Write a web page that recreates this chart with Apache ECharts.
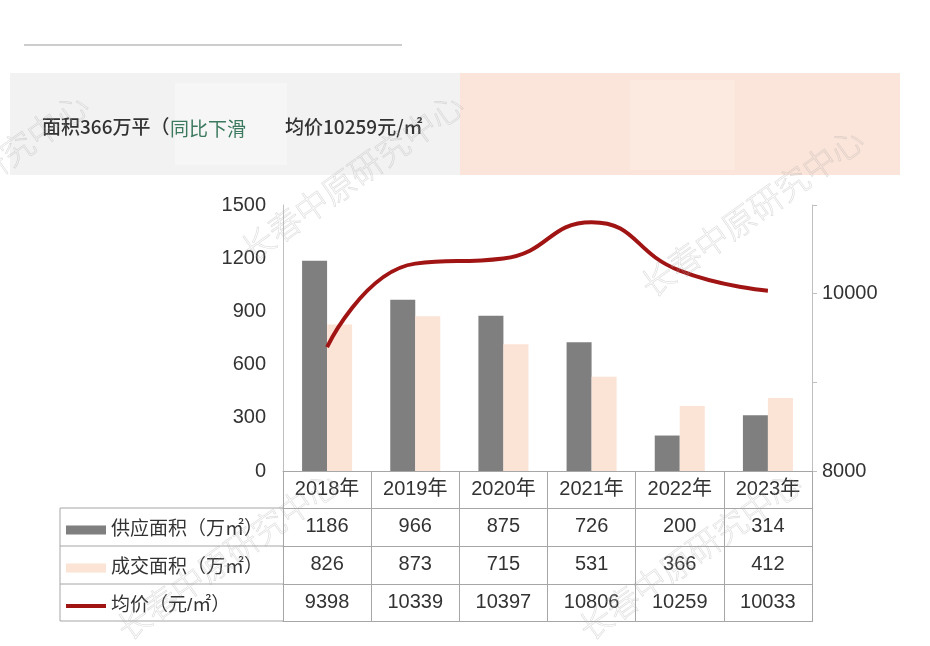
<!DOCTYPE html>
<html>
<head>
<meta charset="utf-8">
<script src="https://cdn.jsdelivr.net/npm/echarts@6/dist/echarts.min.js"></script>
<style>html,body{margin:0;padding:0;background:#fff}#c{width:930px;height:646px}</style>
</head>
<body>
<div id="c"></div>
<script>
var categories = ['2018年','2019年','2020年','2021年','2022年','2023年'];
var supply = [1186, 966, 875, 726, 200, 314];
var deal = [826, 873, 715, 531, 366, 412];
var price = [9398, 10339, 10397, 10806, 10259, 10033];
var seriesNames = ['供应面积（万㎡）', '成交面积（万㎡）', '均价（元/㎡）'];
var leftTicks = [0, 300, 600, 900, 1200, 1500];
var rightShown = [8000, 10000];

var FONT = 'Liberation Sans, Arial, "Noto Sans CJK SC", sans-serif';
var BORDER = '#a6a6a6';
var TXT = '#333333';

var chart = echarts.init(document.getElementById('c'));

function rowAxis(offset, values, last) {
  return {
    type: 'category', gridIndex: 0, position: 'bottom', offset: offset,
    data: categories, boundaryGap: true,
    axisLine: { show: true, lineStyle: { color: BORDER, width: 1 } },
    axisTick: { show: !last, length: last ? 0 : 38, interval: 0, lineStyle: { color: BORDER, width: 1 } },
    axisLabel: last ? { show: false } : {
      show: true, interval: 0, margin: 8, fontSize: 20, color: TXT, fontFamily: FONT,
      formatter: function (v, i) { return values ? String(values[i]) : v; }
    }
  };
}

function watermark(x, y) {
  return {
    type: 'text', x: x, y: y, rotation: 0.62, silent: true, z: 100,
    style: {
      text: '长春中原研究中心', x: 0, y: 0, align: 'center', verticalAlign: 'middle',
      font: '300 33px "Noto Sans CJK SC", sans-serif',
      fill: 'rgba(255,255,255,0)', stroke: 'rgba(170,170,170,0.38)', lineWidth: 0.7
    }
  };
}

var lineIcon = 'path://M0,0 L40,0 L40,0.01 L0,0.01 Z M0,2.6 L40,2.6 L40,6.4 L0,6.4 Z M0,8.99 L40,8.99 L40,9 L0,9 Z';

var option = {
  backgroundColor: '#ffffff',
  animation: false,
  grid: { left: 283, right: 118, top: 205, bottom: 175, containLabel: false },
  legend: {
    orient: 'vertical', left: 61, top: 515, itemGap: 18, itemWidth: 40, itemHeight: 9,
    selectedMode: false,
    textStyle: { fontSize: 19, color: TXT, fontFamily: FONT, lineHeight: 20 },
    data: [
      { name: seriesNames[0], icon: 'rect' },
      { name: seriesNames[1], icon: 'rect' },
      { name: seriesNames[2], icon: lineIcon, itemStyle: { color: '#a01414' } }
    ]
  },
  xAxis: [
    rowAxis(0, null, false),
    rowAxis(37, supply, false),
    rowAxis(75, deal, false),
    rowAxis(113, price, false),
    rowAxis(150, null, true)
  ],
  yAxis: [
    {
      type: 'value', min: leftTicks[0], max: leftTicks[leftTicks.length - 1], interval: 300,
      axisLine: { show: true, lineStyle: { color: '#bfbfbf', width: 1 } },
      axisTick: { show: false }, splitLine: { show: false },
      axisLabel: { fontSize: 20, color: TXT, fontFamily: FONT, margin: 17, formatter: function (v) { return String(v); } }
    },
    {
      type: 'value', min: 8000, max: 11000, interval: 1000, position: 'right',
      axisLine: { show: true, lineStyle: { color: '#bfbfbf', width: 1 } },
      axisTick: { show: true, length: 5, lineStyle: { color: '#bfbfbf' } },
      splitLine: { show: false },
      axisLabel: {
        fontSize: 20, color: TXT, fontFamily: FONT, margin: 10,
        formatter: function (v) { return rightShown.indexOf(v) >= 0 ? String(v) : ''; }
      }
    }
  ],
  series: [
    {
      name: seriesNames[0], type: 'bar', data: supply, barWidth: 25, barGap: '0%',
      itemStyle: { color: '#7f7f7f' }
    },
    {
      name: seriesNames[1], type: 'bar', data: deal, barWidth: 25, barGap: '0%',
      itemStyle: { color: '#fbe3d6' }
    },
    {
      name: seriesNames[2], type: 'line', yAxisIndex: 1, data: price, smooth: 0.5,
      symbol: 'none', lineStyle: { color: '#a01414', width: 4 }, itemStyle: { color: '#a01414' }, z: 5
    }
  ],
  graphic: [
    { type: 'line', silent: true, shape: { x1: 24, y1: 45, x2: 402, y2: 45 }, style: { stroke: '#bdbdbd', lineWidth: 1.5 } },
    { type: 'rect', silent: true, shape: { x: 10, y: 73, width: 450, height: 102 }, style: { fill: '#f2f2f2' } },
    { type: 'rect', silent: true, shape: { x: 175, y: 83, width: 112, height: 82 }, style: { fill: '#f6f6f6' } },
    { type: 'rect', silent: true, shape: { x: 460, y: 73, width: 440, height: 102 }, style: { fill: '#fbe4d9' } },
    { type: 'rect', silent: true, shape: { x: 630, y: 80, width: 105, height: 90 }, style: { fill: '#fce9df' } },
    { type: 'text', silent: true, style: { text: '面积366万平（', x: 42, y: 127, verticalAlign: 'middle', font: '500 19px "Noto Sans CJK SC", sans-serif', fill: '#333' } },
    { type: 'text', silent: true, style: { text: '同比下滑', x: 170, y: 129, verticalAlign: 'middle', font: '19px "Noto Sans CJK SC", sans-serif', fill: '#3c7a5f' } },
    { type: 'text', silent: true, style: { text: '均价10259元/㎡', x: 285, y: 127, verticalAlign: 'middle', font: '500 19px "Noto Sans CJK SC", sans-serif', fill: '#333' } },
    { type: 'polyline', silent: true, shape: { points: [[283, 508], [60, 508], [60, 621], [283, 621]] }, style: { stroke: BORDER, lineWidth: 1, fill: null } },
    { type: 'line', silent: true, shape: { x1: 60, y1: 546, x2: 283, y2: 546 }, style: { stroke: BORDER, lineWidth: 1 } },
    { type: 'line', silent: true, shape: { x1: 60, y1: 584, x2: 283, y2: 584 }, style: { stroke: BORDER, lineWidth: 1 } },
    watermark(-23, 177),
    watermark(352, 177),
    watermark(752, 212),
    watermark(228, 555),
    watermark(690, 555)
  ]
};
chart.setOption(option);
</script>
</body>
</html>
